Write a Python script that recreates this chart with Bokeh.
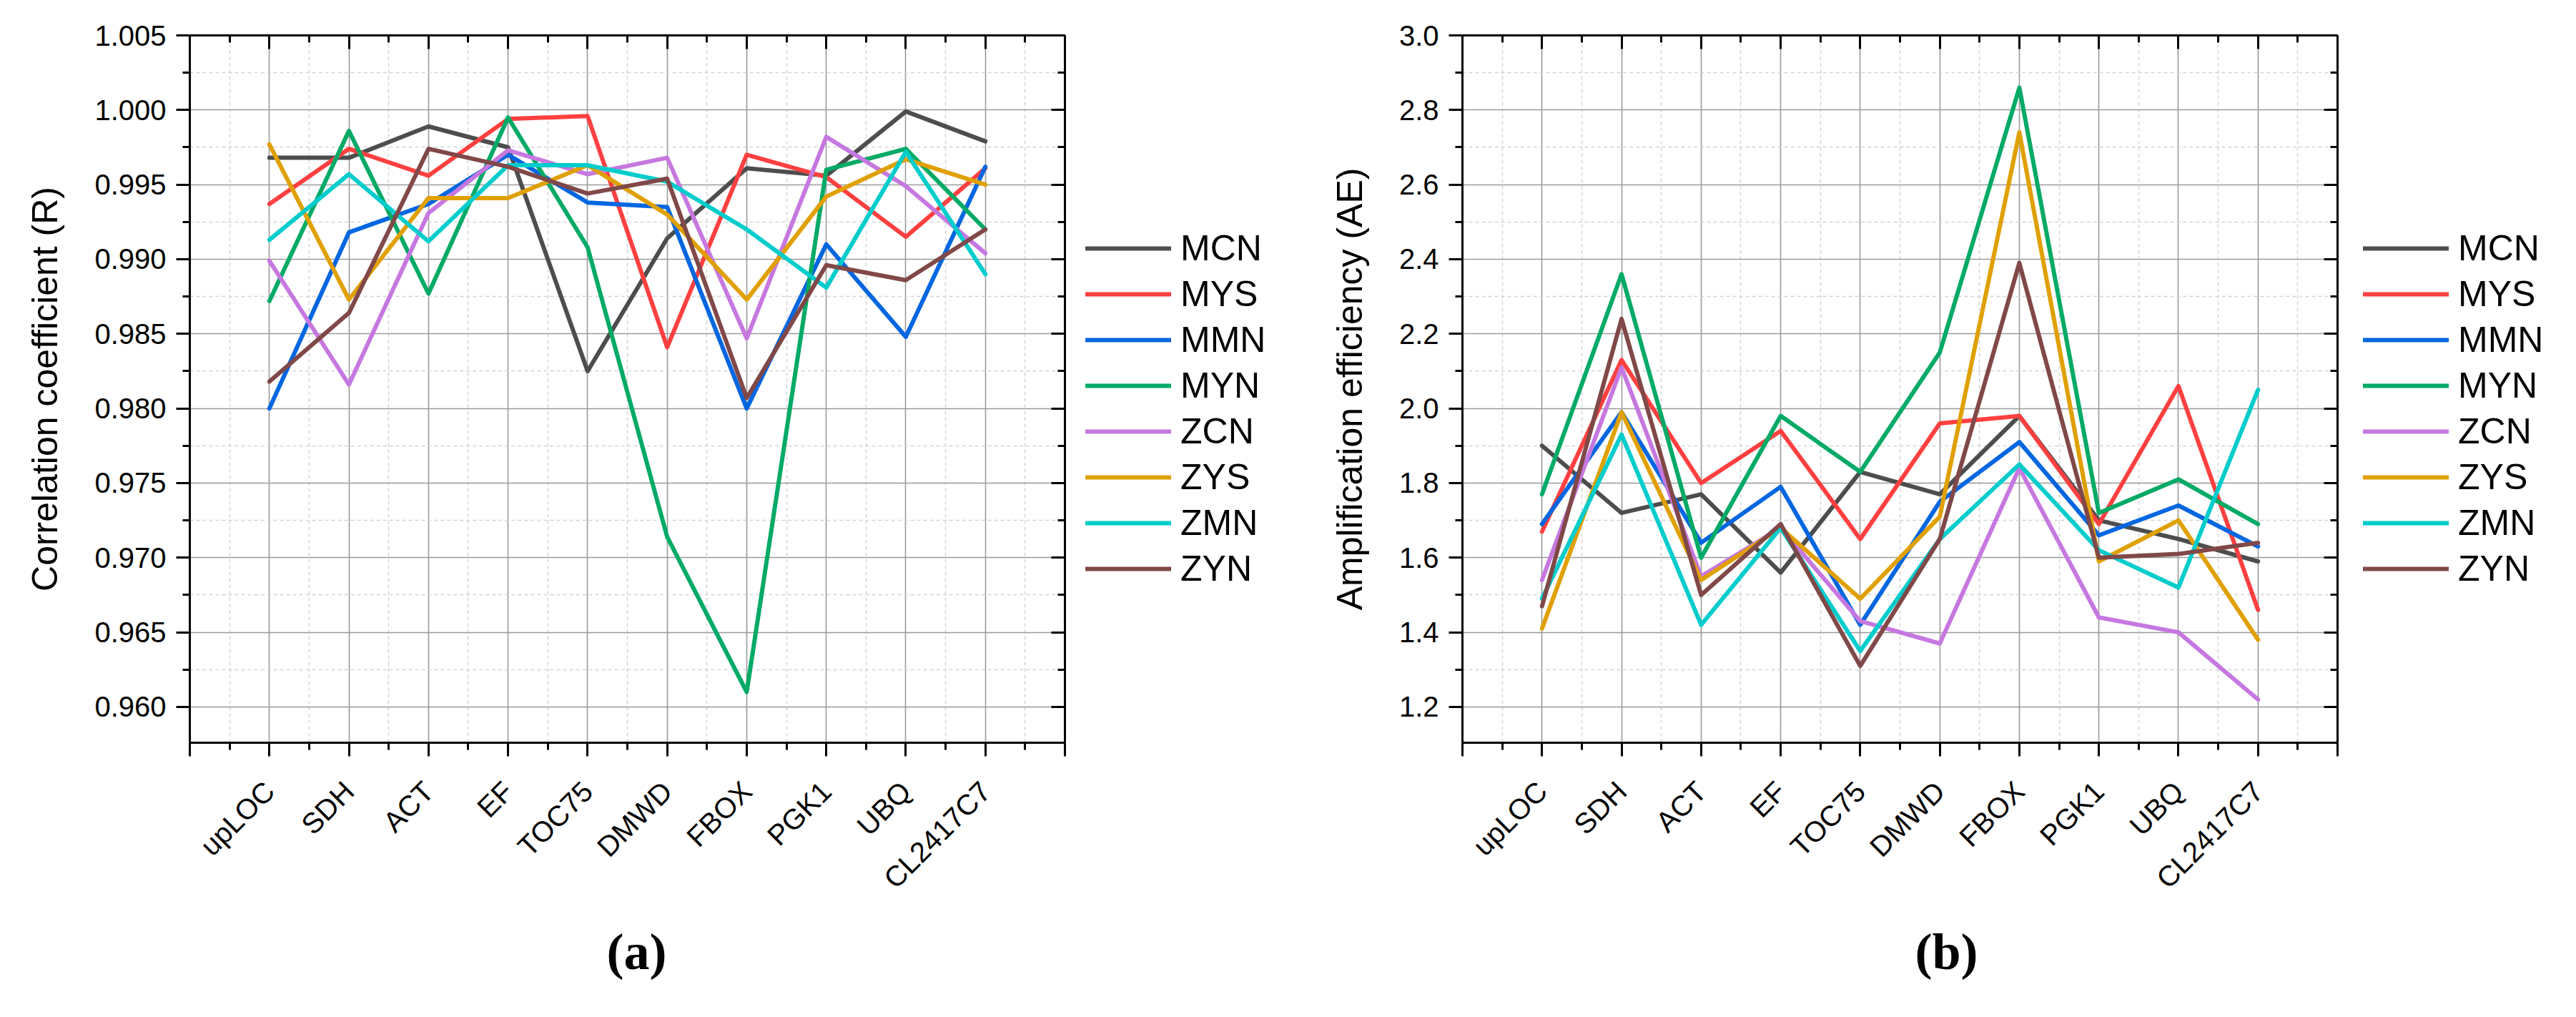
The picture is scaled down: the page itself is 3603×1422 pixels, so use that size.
from bokeh.plotting import figure
from bokeh.models import (FixedTicker, LinearAxis, Legend, LegendItem, Range1d,
                          Title, PrintfTickFormatter)
from bokeh.layouts import row
from bokeh.embed import file_html
from bokeh.resources import INLINE

# ---------------- data ----------------
genes = ["upLOC", "SDH", "ACT", "EF", "TOC75", "DMWD", "FBOX", "PGK1", "UBQ", "CL2417C7"]
series = ["MCN", "MYS", "MMN", "MYN", "ZCN", "ZYS", "ZMN", "ZYN"]
colors = ["#4D4D4D", "#FF4040", "#0066E0", "#00AA66", "#C678E0", "#E0A000", "#00CCCC", "#804848"]

# (a) correlation coefficient R
r_MCN = [0.9968, 0.9968, 0.9989, 0.9975, 0.9825, 0.9914, 0.9961, 0.9956, 0.9999, 0.9979]
r_MYS = [0.9937, 0.9974, 0.9956, 0.9994, 0.9996, 0.9841, 0.9970, 0.9955, 0.9915, 0.9961]
r_MMN = [0.9800, 0.9918, 0.9937, 0.9970, 0.9938, 0.9935, 0.9800, 0.9910, 0.9848, 0.9962]
r_MYN = [0.9872, 0.9986, 0.9877, 0.9995, 0.9908, 0.9714, 0.9610, 0.9960, 0.9974, 0.9920]
r_ZCN = [0.9899, 0.9816, 0.9931, 0.9973, 0.9957, 0.9968, 0.9847, 0.9982, 0.9949, 0.9904]
r_ZYS = [0.9977, 0.9873, 0.9941, 0.9941, 0.9963, 0.9930, 0.9873, 0.9942, 0.9967, 0.9950]
r_ZMN = [0.9913, 0.9957, 0.9912, 0.9963, 0.9963, 0.9952, 0.9920, 0.9881, 0.9972, 0.9890]
r_ZYN = [0.9818, 0.9864, 0.9974, 0.9962, 0.9944, 0.9954, 0.9807, 0.9896, 0.9886, 0.9920]

# (b) amplification efficiency AE
ae_MCN = [1.90, 1.72, 1.77, 1.56, 1.83, 1.77, 1.98, 1.70, 1.65, 1.59]
ae_MYS = [1.67, 2.13, 1.80, 1.94, 1.65, 1.96, 1.98, 1.69, 2.06, 1.46]
ae_MMN = [1.69, 1.99, 1.64, 1.79, 1.42, 1.75, 1.91, 1.66, 1.74, 1.63]
ae_MYN = [1.77, 2.36, 1.60, 1.98, 1.83, 2.15, 2.86, 1.72, 1.81, 1.69]
ae_ZCN = [1.54, 2.11, 1.55, 1.68, 1.43, 1.37, 1.84, 1.44, 1.40, 1.22]
ae_ZYS = [1.41, 1.99, 1.54, 1.68, 1.49, 1.71, 2.74, 1.59, 1.70, 1.38]
ae_ZMN = [1.49, 1.93, 1.42, 1.68, 1.35, 1.65, 1.85, 1.62, 1.52, 2.05]
ae_ZYN = [1.47, 2.24, 1.50, 1.69, 1.31, 1.65, 2.39, 1.60, 1.61, 1.64]

yticks_a = [0.960, 0.965, 0.970, 0.975, 0.980, 0.985, 0.990, 0.995, 1.000, 1.005]
yticks_b = [1.2, 1.4, 1.6, 1.8, 2.0, 2.2, 2.4, 2.6, 2.8, 3.0]

data_a = dict(zip(series, [r_MCN, r_MYS, r_MMN, r_MYN, r_ZCN, r_ZYS, r_ZMN, r_ZYN]))
data_b = dict(zip(series, [ae_MCN, ae_MYS, ae_MMN, ae_MYN, ae_ZCN, ae_ZYS, ae_ZMN, ae_ZYN]))

H = 1400
FRAME_W = 1224
LEFT = 265
TOP = 49
FRAME_BOTTOM = 1038
LEGEND_DROP = 268
LW = 6


def make_panel(data, ylabel, y0, y1, yt, fmt, caption, cap_off, width):
    p = figure(width=width, height=H, x_range=Range1d(0, len(genes) + 1),
               y_range=Range1d(y0, y1), output_backend="svg", toolbar_location=None,
               min_border_left=LEFT, min_border_right=width - LEFT - FRAME_W,
               min_border_top=TOP, min_border_bottom=H - FRAME_BOTTOM)
    p.background_fill_color = "white"
    p.border_fill_color = "white"
    p.outline_line_color = None

    xs = list(range(1, len(genes) + 1))
    xt = FixedTicker(ticks=list(range(0, len(genes) + 2)),
                     minor_ticks=[i + 0.5 for i in range(len(genes) + 1)])
    ymin = [(a + b) / 2 for a, b in zip(yt, yt[1:])]
    ytk = FixedTicker(ticks=yt, minor_ticks=ymin)

    overrides = {0: "", len(genes) + 1: ""}
    for i, g in enumerate(genes):
        overrides[i + 1] = g

    xa = p.xaxis[0]
    ya = p.yaxis[0]
    xa.ticker = xt
    xa.major_label_overrides = overrides
    xa.major_label_orientation = 0.785398
    xa.major_label_standoff = 42
    ya.ticker = ytk
    ya.formatter = PrintfTickFormatter(format=fmt)
    ya.axis_label = ylabel
    ya.axis_label_text_font = "Liberation Sans"
    ya.axis_label_text_font_size = "50px"
    ya.axis_label_text_font_style = "normal"
    ya.axis_label_text_color = "black"
    ya.axis_label_standoff = 38
    ya.major_label_standoff = 14

    for ax in (xa, ya):
        ax.axis_line_width = 3
        ax.axis_line_color = "black"
        ax.major_tick_line_width = 3
        ax.minor_tick_line_width = 3
        ax.major_tick_line_color = "black"
        ax.minor_tick_line_color = "black"
        ax.major_tick_out = 19
        ax.major_tick_in = 0
        ax.minor_tick_out = 10
        ax.minor_tick_in = 0
        ax.major_label_text_font = "Liberation Sans"
        ax.major_label_text_font_size = "40px"
        ax.major_label_text_color = "black"

    top = LinearAxis(ticker=xt, major_tick_in=19, major_tick_out=0,
                     minor_tick_in=10, minor_tick_out=0, axis_line_width=3,
                     major_tick_line_width=3, minor_tick_line_width=3,
                     major_label_standoff=0, major_label_text_font_size="0px",
                     major_label_overrides={i: "" for i in range(len(genes) + 2)})
    right = LinearAxis(ticker=ytk, major_tick_in=19, major_tick_out=0,
                       minor_tick_in=10, minor_tick_out=0, axis_line_width=3,
                       major_tick_line_width=3, minor_tick_line_width=3,
                       major_label_standoff=0, major_label_text_font_size="0px",
                       formatter=PrintfTickFormatter(format=" "))
    p.add_layout(top, "above")
    p.add_layout(right, "right")

    for g in (p.xgrid[0], p.ygrid[0]):
        g.grid_line_color = "#9a9a9a"
        g.grid_line_width = 1.6
        g.minor_grid_line_color = "#d4d4d4"
        g.minor_grid_line_width = 1.5
        g.minor_grid_line_dash = "5 4"
    p.xgrid[0].ticker = xt
    p.ygrid[0].ticker = ytk

    for name, col in zip(series, colors):
        p.line(xs, data[name], line_color=col, line_width=LW,
               line_join="round", line_cap="round")

    t = Title(text=caption, align="left", offset=cap_off, text_font="Liberation Serif",
              text_font_size="72px", text_font_style="bold", text_color="black",
              standoff=40)
    p.add_layout(t, "below")
    return p


def make_legend_fig(data, width):
    # a plain figure whose frame only hosts the legend; its own copies of the
    # series lie outside its (hidden) ranges, so only the legend is visible
    lf = figure(width=width, height=H, x_range=Range1d(100, 101), y_range=Range1d(100, 101),
                output_backend="svg", toolbar_location=None,
                x_axis_location=None, y_axis_location=None,
                min_border_left=0, min_border_right=0, min_border_top=TOP,
                min_border_bottom=H - FRAME_BOTTOM)
    lf.grid.visible = False
    lf.outline_line_color = None
    lf.background_fill_color = "white"
    lf.border_fill_color = "white"
    xs = list(range(1, len(genes) + 1))
    items = []
    for name, col in zip(series, colors):
        r = lf.line(xs, data[name], line_color=col, line_width=LW, line_cap="round")
        items.append(LegendItem(label=name, renderers=[r]))
    legend = Legend(items=items, location="top_left", orientation="vertical",
                    title=" ", title_text_font_size="1px", title_standoff=LEGEND_DROP,
                    glyph_width=120, glyph_height=58, label_height=58, spacing=6,
                    label_standoff=13, padding=0, margin=0,
                    label_text_font="Liberation Sans", label_text_font_size="50px",
                    label_text_color="black", label_text_baseline="middle",
                    border_line_color=None, background_fill_alpha=0)
    lf.add_layout(legend)
    return lf


p1 = make_panel(data_a, "Correlation coefficient (R)", 0.9576, 1.005, yticks_a, "%.3f",
                "(a)", 583, 1518)
l1 = make_legend_fig(data_a, 262)
p2 = make_panel(data_b, "Amplification efficiency (AE)", 1.104, 3.0, yticks_b, "%.1f",
                "(b)", 633, 1525)
l2 = make_legend_fig(data_b, 282)

layout = row(p1, l1, p2, l2)
open("out.html", "w").write(file_html(layout, INLINE))
